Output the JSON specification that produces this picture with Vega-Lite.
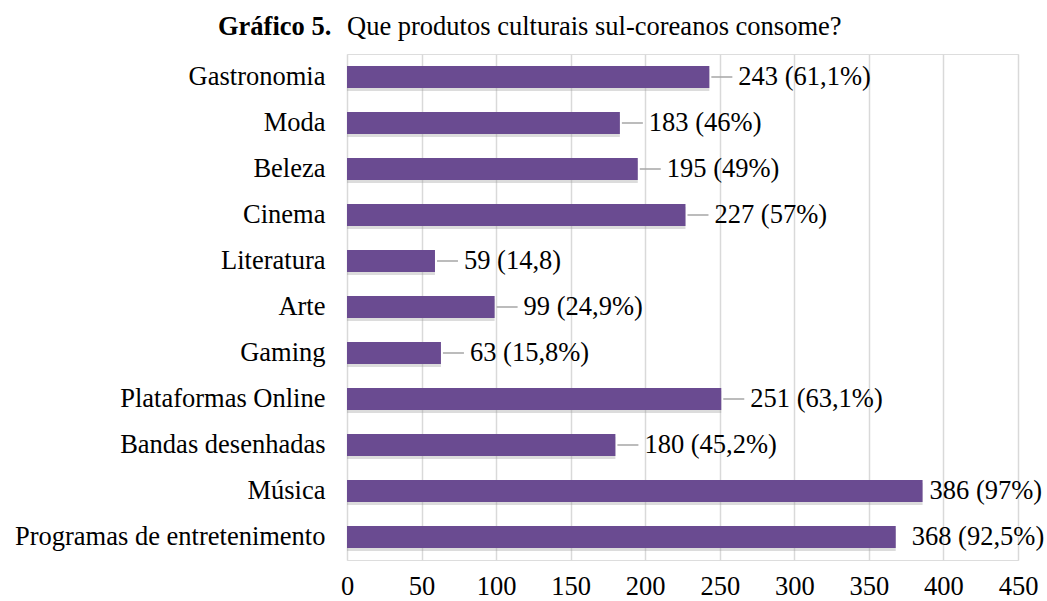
{
  "$schema": "https://vega.github.io/schema/vega-lite/v6.json",
  "width": 671,
  "height": 506,
  "autosize": {"type": "none"},
  "padding": {"left": 347, "top": 54, "right": 29, "bottom": 41},
  "background": "white",
  "config": {
    "font": "Liberation Serif",
    "title": {"font": "Liberation Serif", "subtitleFont": "Liberation Serif"},
    "text": {"font": "Liberation Serif"}
  },
  "title": {
    "text": "Gráfico 5.",
    "subtitle": "Que produtos culturais sul-coreanos consome?",
    "anchor": "start",
    "frame": "group",
    "dx": -129,
    "offset": 14,
    "font": "Liberation Serif",
    "fontSize": 26.5,
    "fontWeight": "bold",
    "color": "#000000",
    "subtitleFont": "Liberation Serif",
    "subtitleFontSize": 26.5,
    "subtitleFontWeight": "normal",
    "subtitleColor": "#000000",
    "subtitlePadding": -26.5,
    "encode": {
      "subtitle": {"update": {"dx": {"value": 0}}}
    }
  },
  "data": {
    "values": [
      {"categoria": "Gastronomia", "n": 243, "rotulo": "243 (61,1%)"},
      {"categoria": "Moda ", "n": 183, "rotulo": "183 (46%)"},
      {"categoria": "Beleza", "n": 195, "rotulo": "195 (49%)"},
      {"categoria": "Cinema ", "n": 227, "rotulo": "227 (57%)"},
      {"categoria": "Literatura", "n": 59, "rotulo": "59 (14,8)"},
      {"categoria": "Arte", "n": 99, "rotulo": "99 (24,9%)"},
      {"categoria": "Gaming", "n": 63, "rotulo": "63 (15,8%)"},
      {"categoria": "Plataformas Online", "n": 251, "rotulo": "251 (63,1%)"},
      {"categoria": "Bandas desenhadas", "n": 180, "rotulo": "180 (45,2%)"},
      {"categoria": "Música", "n": 386, "rotulo": "386 (97%)"},
      {"categoria": "Programas de entretenimento", "n": 368, "rotulo": "368 (92,5%)"}
    ]
  },
  "encoding": {
    "y": {
      "field": "categoria",
      "type": "nominal",
      "sort": null,
      "title": null,
      "scale": {"paddingInner": 0.52, "paddingOuter": 0.26},
      "axis": {
        "domain": false,
        "ticks": false,
        "labelFont": "Liberation Serif",
        "labelFontSize": 26.5,
        "labelColor": "#000000",
        "labelPadding": 22,
        "labelLimit": 400
      }
    }
  },
  "layer": [
    {
      "mark": {"type": "bar", "color": "#9a9a9a", "opacity": 0.35, "yOffset": 3, "x2Offset": 3},
      "encoding": {
        "x": {"field": "n", "type": "quantitative"}
      }
    },
    {
      "mark": {"type": "bar", "color": "#6a4b91"},
      "encoding": {
        "x": {
          "field": "n",
          "type": "quantitative",
          "title": null,
          "scale": {"domain": [0, 450], "nice": false},
          "axis": {
            "values": [0, 50, 100, 150, 200, 250, 300, 350, 400, 450],
            "domain": false,
            "ticks": false,
            "grid": true,
            "gridColor": "#d9d9d9",
            "gridWidth": 1.5,
            "labelFont": "Liberation Serif",
            "labelFontSize": 26.5,
            "labelColor": "#000000",
            "labelPadding": 13,
            "labelFlush": false
          }
        }
      }
    },
    {
      "transform": [{"filter": "datum.n < 300"}],
      "mark": {"type": "rule", "color": "#a6a6a6", "strokeWidth": 1.5, "xOffset": 2, "x2Offset": 23},
      "encoding": {
        "x": {"field": "n", "type": "quantitative"},
        "x2": {"field": "n"}
      }
    },
    {
      "transform": [{"filter": "datum.n < 300"}],
      "mark": {"type": "text", "align": "left", "baseline": "middle", "dx": 29, "font": "Liberation Serif", "fontSize": 26.5, "color": "#000000"},
      "encoding": {
        "x": {"field": "n", "type": "quantitative"},
        "text": {"field": "rotulo"}
      }
    },
    {
      "transform": [{"filter": "datum.n >= 380"}],
      "mark": {"type": "text", "align": "left", "baseline": "middle", "dx": 7, "font": "Liberation Serif", "fontSize": 26.5, "color": "#000000"},
      "encoding": {
        "x": {"field": "n", "type": "quantitative"},
        "text": {"field": "rotulo"}
      }
    },
    {
      "transform": [{"filter": "datum.n >= 300 && datum.n < 380"}],
      "mark": {"type": "text", "align": "left", "baseline": "middle", "dx": 16, "font": "Liberation Serif", "fontSize": 26.5, "color": "#000000"},
      "encoding": {
        "x": {"field": "n", "type": "quantitative"},
        "text": {"field": "rotulo"}
      }
    }
  ]
}
